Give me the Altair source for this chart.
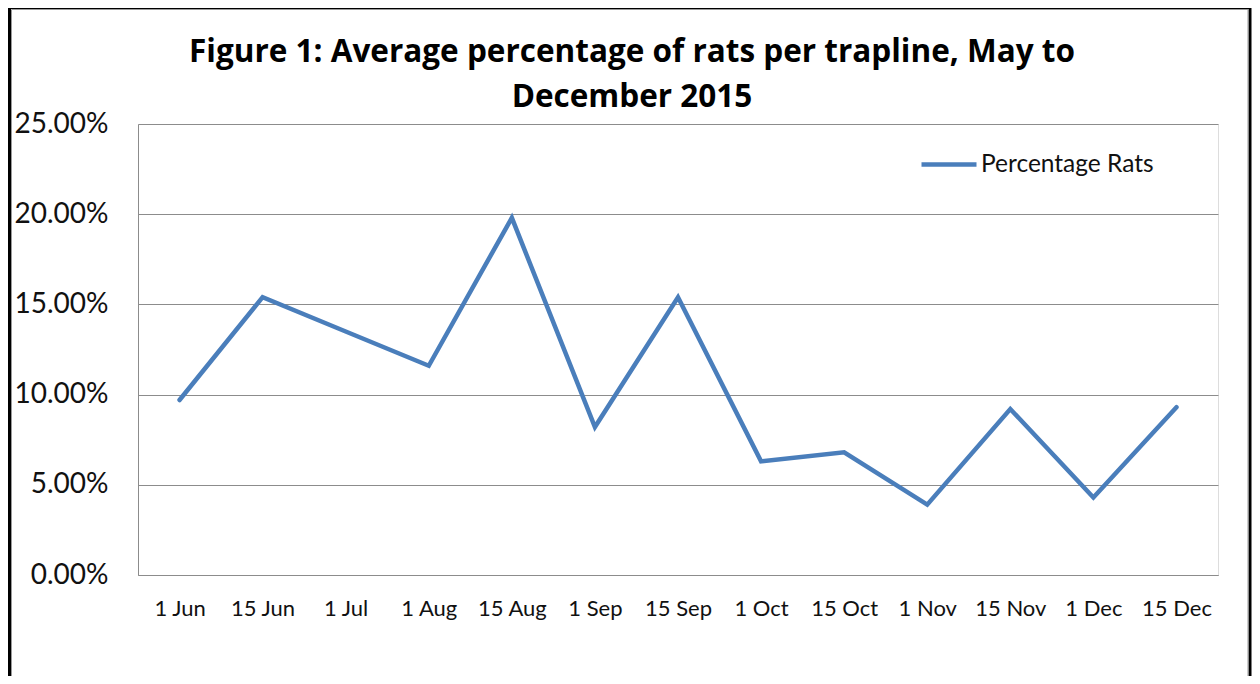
import altair as alt
import pandas as pd

categories = ["1 Jun", "15 Jun", "1 Jul", "1 Aug", "15 Aug", "1 Sep", "15 Sep",
              "1 Oct", "15 Oct", "1 Nov", "15 Nov", "1 Dec", "15 Dec"]
values = [0.097, 0.154, 0.135, 0.116, 0.198, 0.082, 0.154,
          0.063, 0.068, 0.039, 0.092, 0.043, 0.093]
series_name = "Percentage Rats"
y_ticks = [0.0, 0.05, 0.10, 0.15, 0.20, 0.25]
title_lines = ["Figure 1: Average percentage of rats per trapline, May to", "December 2015"]

df = pd.DataFrame({"date": categories, "pct": values, "series": series_name})

FONT = "Lato"
GRID = "#8c8c8c"

line = alt.Chart(df).mark_line(strokeWidth=4.5, strokeCap="round", strokeJoin="miter").encode(
    x=alt.X("date:N", sort=categories, scale=alt.Scale(type="point", padding=0.5),
            axis=alt.Axis(title=None, labelAngle=0, ticks=False, domainColor=GRID,
                          labelFontSize=22, labelPadding=23, labelColor="#111",
                          labelFont=FONT, grid=False)),
    y=alt.Y("pct:Q", scale=alt.Scale(domain=[0, 0.25], nice=False),
            axis=alt.Axis(title=None, values=y_ticks, format=".2%", ticks=False,
                          domainColor=GRID, gridColor=GRID, gridOpacity=1,
                          labelFontSize=28, labelPadding=30, labelColor="#111",
                          labelFont=FONT)),
    color=alt.Color("series:N", scale=alt.Scale(range=["#4A7EBB"]),
                    legend=alt.Legend(title=None, orient="none", legendX=781, legendY=10.5,
                                      symbolType="stroke", symbolSize=3025,
                                      symbolStrokeWidth=4.5, labelFontSize=24.5,
                                      labelFont=FONT, labelColor="#111", labelLimit=400,
                                      labelOffset=2, padding=0)),
)

single = alt.Data(values=[{}])
outer = alt.Chart(single).mark_rect(fill=None, stroke="black", strokeWidth=3).encode(
    x=alt.value(-128.5), x2=alt.value(1112), y=alt.value(-116.5), y2=alt.value(600))
inner = alt.Chart(single).mark_rect(fill=None, stroke="#9a9a9a", strokeWidth=1).encode(
    x=alt.value(-126.5), x2=alt.value(1110), y=alt.value(-114.5), y2=alt.value(600))

title = alt.Chart(single).mark_text(
    text=title_lines, font="Open Sans", fontSize=31.5, fontWeight="bold", color="black",
    align="center", baseline="alphabetic", lineHeight=45).encode(
    x=alt.value(494), y=alt.value(-62))

chart = alt.layer(outer, inner, title, line).properties(
    width=1080, height=451,
    autosize=alt.AutoSizeParams(type="none"),
    padding={"left": 130, "top": 116, "right": 34, "bottom": 101},
).configure_view(stroke=None).configure(background="white")

chart.save("out.html", embed_options={"renderer": "svg", "actions": False})
